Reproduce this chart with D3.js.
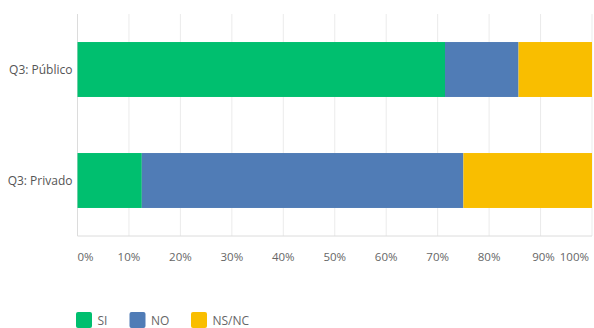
<!DOCTYPE html>
<html><head><meta charset="utf-8">
<script src="https://cdn.jsdelivr.net/npm/d3@7"></script>
<style>
html,body{margin:0;padding:0;background:#fff;}
svg{display:block;font-family:"Open Sans",sans-serif;}
</style></head>
<body><svg id="c" width="594" height="328"></svg>
<script>
const categories = ["Q3: Público", "Q3: Privado"];
const seriesNames = ["SI", "NO", "NS/NC"];
const SI = [71.43, 12.5];
const NO = [14.29, 62.5];
const NSNC = [14.28, 25.0];
const tickValues = [0,10,20,30,40,50,60,70,80,90,100];
const tickLabels = ["0%","10%","20%","30%","40%","50%","60%","70%","80%","90%","100%"];
const colors = ["#00BF6F", "#507CB6", "#F9BE00"];

const rows = categories.map((c,i)=>({cat:c, SI:SI[i], NO:NO[i], "NS/NC":NSNC[i]}));
const stack = d3.stack().keys(seriesNames)(rows);

const svg = d3.select("#c");
const x = d3.scaleLinear().domain([0,100]).range([77.5, 592]);
const y = d3.scaleBand().domain(categories).range([14, 236]).paddingInner(0.505).paddingOuter(0.2525);

// gridlines
svg.append("g").selectAll("line").data(tickValues.slice(1)).join("line")
  .attr("x1", d=>x(d)).attr("x2", d=>x(d)).attr("y1", 14).attr("y2", 236)
  .attr("stroke", "#ebebeb").attr("stroke-width", 1);
// axis lines
svg.append("line").attr("x1", x(0)).attr("x2", x(0)).attr("y1", 14).attr("y2", 236)
  .attr("stroke", "#dcdcdc");
svg.append("line").attr("x1", x(0)).attr("x2", x(100)).attr("y1", 236).attr("y2", 236)
  .attr("stroke", "#dcdcdc");

// bars
svg.append("g").selectAll("g").data(stack).join("g")
  .attr("fill", (d,i)=>colors[i])
  .selectAll("rect").data(d=>d).join("rect")
  .attr("x", d=>x(d[0])).attr("width", d=>x(d[1])-x(d[0]))
  .attr("y", d=>y(d.data.cat)).attr("height", y.bandwidth());

// y labels
svg.append("g").selectAll("text").data(categories).join("text")
  .attr("x", 72.5).attr("y", d=>y(d)+y.bandwidth()/2).attr("dy","0.35em")
  .attr("text-anchor","end").attr("font-size", 12).attr("fill","#555").text(d=>d);

// x tick labels
svg.append("g").selectAll("text").data(tickValues).join("text")
  .attr("x", (d,i)=> i===0 ? x(d) : (i===tickValues.length-1 ? x(d)-3 : (i===9 ? x(d)+3 : x(d))))
  .attr("y", 257).attr("dy","0.35em")
  .attr("text-anchor", (d,i)=> i===0 ? "start" : (i===tickValues.length-1 ? "end" : "middle"))
  .attr("font-size", 11.5).attr("fill","#666").text((d,i)=>tickLabels[i]);

// legend
const legX = [76, 129.5, 191];
const lg = svg.append("g").selectAll("g").data(seriesNames).join("g")
  .attr("transform", (d,i)=>`translate(${legX[i]},312)`);
lg.append("rect").attr("width", 16).attr("height", 16).attr("rx", 2)
  .attr("fill", (d,i)=>colors[i]);
lg.append("text").attr("x", 21.5).attr("y", 8.5).attr("dy","0.35em")
  .attr("font-size", 12).attr("fill","#666").text(d=>d);
</script></body></html>
